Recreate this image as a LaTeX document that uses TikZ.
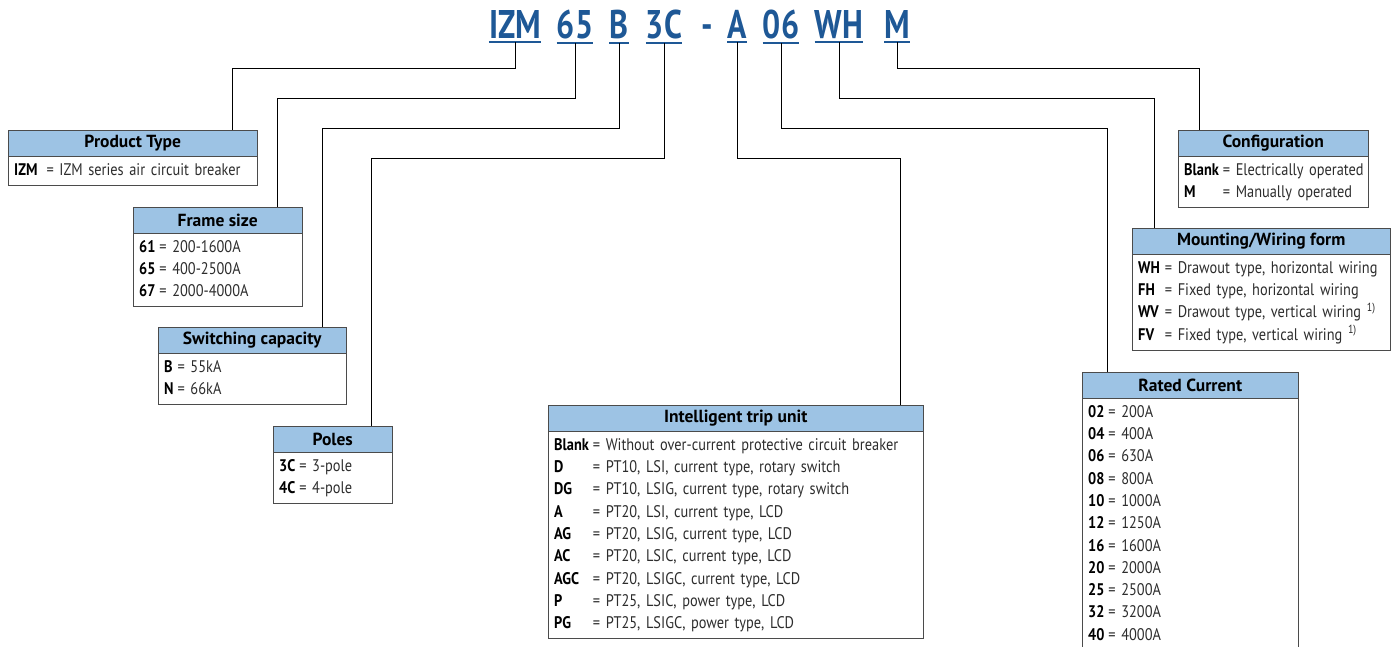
\documentclass[tikz,border=0pt]{standalone}
\usepackage{fontspec}
\setmainfont{PT Sans}[FakeStretch=0.855]
\newfontfamily\hdrfam{PT Sans}
\newfontfamily\codefam{PT Sans}[FakeStretch=0.8]
\usetikzlibrary{positioning}

\definecolor{codeblue}{RGB}{30,88,150}
\definecolor{hdrblue}{RGB}{157,195,228}
\definecolor{boxgray}{RGB}{75,75,75}
\definecolor{txtgray}{RGB}{45,45,45}

\newcommand{\codefont}{\codefam\fontsize{40}{44}\selectfont\bfseries}
\newcommand{\hdrfont}{\hdrfam\fontsize{17.5}{20}\selectfont\bfseries}
\newcommand{\bodyfont}{\fontsize{16.8}{22.3}\selectfont}
\newcommand{\kv}[2]{\textbf{\color{black}#1} & = #2}

\begin{document}
\begin{tikzpicture}[x=1pt, y=-1pt,
    code/.style={font=\codefont, text=codeblue, inner xsep=0pt, inner ysep=4pt, anchor=base},
    codeline/.style={codeblue, line width=2pt},
    hdr/.style={draw=boxgray, fill=hdrblue, minimum width=#1, minimum height=26pt, inner sep=0pt, font=\hdrfont, anchor=north west},
    body/.style={draw=boxgray, fill=white, text width=#1, align=left, inner xsep=6pt, inner ysep=3pt, font=\bodyfont, text=txtgray},
    link/.style={draw=black, line width=1pt}
]
\useasboundingbox (0,0) rectangle (1393,646);

% part number
\foreach \nm/\tx/\cx in {izm/IZM/515, fr/65/575, sw/B/619, po/3C/664, tu/A/737, rc/06/781, mw/WH/839, cf/M/897}
    \node (\nm) [code] at (\cx,38) {\tx};
\node (dash) [code] at (707,38) {-};
\foreach \nm in {izm,fr,sw,po,tu,rc,mw,cf}
    \draw [codeline] (\nm.south west) -- (\nm.south east);

% left side
\node (ptype) [hdr=249pt] at (8,130) {Product Type};
\node (ptypeb) [body=237pt, below=0pt of ptype] {\begin{tabular}{@{}l@{\hspace{9pt}}l@{}}
    \kv{IZM}{IZM series air circuit breaker}
\end{tabular}};

\node (frame) [hdr=169pt] at (133,207) {Frame size};
\node (frameb) [body=157pt, below=0pt of frame] {\begin{tabular}{@{}l@{\hspace{4pt}}l@{}}
    \kv{61}{200-1600A} \\
    \kv{65}{400-2500A} \\
    \kv{67}{2000-4000A}
\end{tabular}};

\node (switch) [hdr=188pt] at (158,327) {Switching capacity};
\node (switchb) [body=176pt, below=0pt of switch] {\begin{tabular}{@{}l@{\hspace{4pt}}l@{}}
    \kv{B}{55kA} \\
    \kv{N}{66kA}
\end{tabular}};

\node (poles) [hdr=119pt] at (273,426) {Poles};
\node (polesb) [body=107pt, below=0pt of poles] {\begin{tabular}{@{}l@{\hspace{4pt}}l@{}}
    \kv{3C}{3-pole} \\
    \kv{4C}{4-pole}
\end{tabular}};

% middle
\node (trip) [hdr=375pt] at (548,405) {Intelligent trip unit};
\node (tripb) [body=363pt, below=0pt of trip] {\begin{tabular}{@{}l@{\hspace{4pt}}l@{}}
    \kv{Blank}{Without over-current protective circuit breaker} \\
    \kv{D}{PT10, LSI, current type, rotary switch} \\
    \kv{DG}{PT10, LSIG, current type, rotary switch} \\
    \kv{A}{PT20, LSI, current type, LCD} \\
    \kv{AG}{PT20, LSIG, current type, LCD} \\
    \kv{AC}{PT20, LSIC, current type, LCD} \\
    \kv{AGC}{PT20, LSIGC, current type, LCD} \\
    \kv{P}{PT25, LSIC, power type, LCD} \\
    \kv{PG}{PT25, LSIGC, power type, LCD}
\end{tabular}};

% right side
\node (config) [hdr=190pt] at (1178,130) {Configuration};
\node (configb) [body=178pt, below=0pt of config] {\begin{tabular}{@{}l@{\hspace{4pt}}l@{}}
    \kv{Blank}{Electrically operated} \\
    \kv{M}{Manually operated}
\end{tabular}};

\node (mount) [hdr=258pt] at (1132,228) {Mounting/Wiring form};
\node (mountb) [body=246pt, below=0pt of mount] {\begin{tabular}{@{}l@{\hspace{5pt}}l@{}}
    \kv{WH}{Drawout type, horizontal wiring} \\
    \kv{FH}{Fixed type, horizontal wiring} \\
    \kv{WV}{Drawout type, vertical wiring \textsuperscript{1)}} \\
    \kv{FV}{Fixed type, vertical wiring \textsuperscript{1)}}
\end{tabular}};

\node (rated) [hdr=216pt] at (1082,372) {Rated Current};
\node (ratedb) [body=204pt, below=0pt of rated] {\begin{tabular}{@{}l@{\hspace{4pt}}l@{}}
    \kv{02}{200A} \\
    \kv{04}{400A} \\
    \kv{06}{630A} \\
    \kv{08}{800A} \\
    \kv{10}{1000A} \\
    \kv{12}{1250A} \\
    \kv{16}{1600A} \\
    \kv{20}{2000A} \\
    \kv{25}{2500A} \\
    \kv{32}{3200A} \\
    \kv{40}{4000A}
\end{tabular}};

% connectors
\coordinate (ptypein) at ([xshift=-25pt]ptype.north east);
\coordinate (framein) at ([xshift=-25pt]frame.north east);
\coordinate (switchin) at ([xshift=-24pt]switch.north east);
\coordinate (polesin) at ([xshift=-21pt]poles.north east);
\coordinate (tripin) at ([xshift=-23pt]trip.north east);
\coordinate (ratedin) at ([xshift=25pt]rated.north west);
\coordinate (mountin) at ([xshift=22pt]mount.north west);
\coordinate (configin) at ([xshift=21pt]config.north west);

\foreach \a/\b/\d in {izm/ptypein/26, fr/framein/56, sw/switchin/86, po/polesin/116,
                      tu/tripin/116, rc/ratedin/86, mw/mountin/56, cf/configin/26}
    \draw [link] (\a.south) -- ++(0,\d) -| (\b);

\end{tikzpicture}
\end{document}
